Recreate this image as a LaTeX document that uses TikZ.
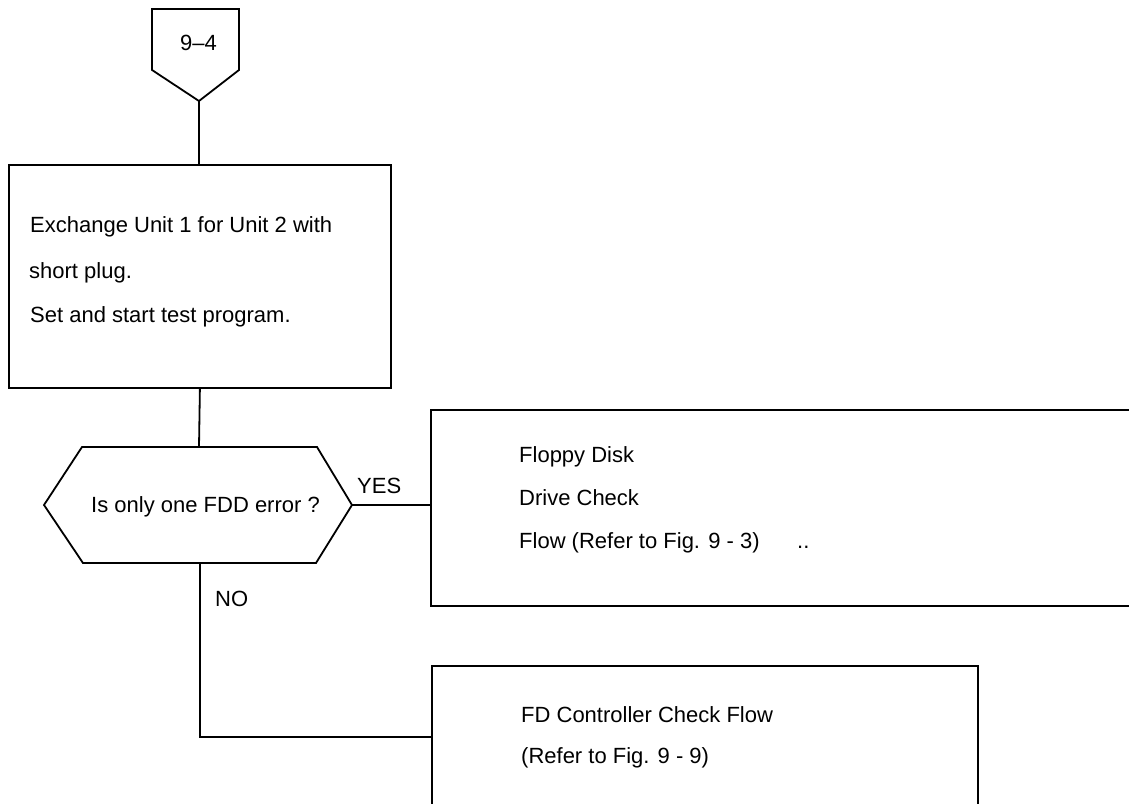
\documentclass[tikz,border=0pt]{standalone}
\usepackage{fontspec}
\setmainfont{Liberation Sans}
\begin{document}
\begin{tikzpicture}[x=1pt,y=-1pt,
  conn/.style={line width=1.8pt, line join=miter},
  boxnode/.style={draw, line width=1.8pt, inner sep=0pt, anchor=north west},
  txt/.style={inner sep=0pt, anchor=base west, font=\fontsize{22}{26}\selectfont}]
\useasboundingbox (0,0) rectangle (1129,803);

% off-page connector
\coordinate (opcTL) at (152,9);
\coordinate (opcTR) at (239,9);
\coordinate (opcBR) at (239,70);
\coordinate (opcBL) at (152,70);
\coordinate (opcTip) at (199,101);
\draw[conn] (opcTL) -- (opcTR) -- (opcBR) -- (opcTip) -- (opcBL) -- cycle;
\node[txt] (opclabel) at (180,50) {9–4};

% process box
\node[boxnode, minimum width=382pt, minimum height=223pt] (b1) at (8,164) {};
\node[txt] (b1l1) at (30,232) {Exchange Unit 1 for Unit 2 with};
\node[txt] (b1l2) at (29,278) {short plug.};
\node[txt] (b1l3) at (30,322) {Set and start test program.};

% decision hexagon
\coordinate (hexTL) at (82,447);
\coordinate (hexT) at (199,447);
\coordinate (hexTR) at (317,447);
\coordinate (hexR) at (352,505);
\coordinate (hexBR) at (316,563);
\coordinate (hexB) at (200,563);
\coordinate (hexBL) at (83,563);
\coordinate (hexL) at (44,505);
\draw[conn] (hexTL) -- (hexTR) -- (hexR) -- (hexBR) -- (hexBL) -- (hexL) -- cycle;
\node[txt] (q) at (91,512) {Is only one FDD error ?};

% result boxes
\node[boxnode, minimum width=720pt, minimum height=196pt] (b2) at (430,409) {};
\node[txt] (b2l1) at (519,462) {Floppy Disk};
\node[txt] (b2l2) at (519,505) {Drive Check};
\node[txt] (b2l3) at (519,548) {Flow (Refer to Fig. 9 - 3)};
\node[txt] (b2dots) at (797,548) {..};

\node[boxnode, minimum width=546pt, minimum height=170pt] (b3) at (431,665) {};
\node[txt] (b3l1) at (521,722) {FD Controller Check Flow};
\node[txt] (b3l2) at (521,763) {(Refer to Fig. 9 - 9)};

% connectors
\draw[conn] (opcTip) -- (opcTip |- b1.north);
\draw[conn] (b1.south) -- (hexT);
\draw[conn] (hexR) -- (hexR -| b2.west);
\coordinate (noTurn) at (200,737);
\draw[conn] (hexB) -- (noTurn) -- (noTurn -| b3.west);

% branch labels
\node[txt] (yes) at (357,493) {YES};
\node[txt] (no) at (215,606) {NO};
\end{tikzpicture}
\end{document}
